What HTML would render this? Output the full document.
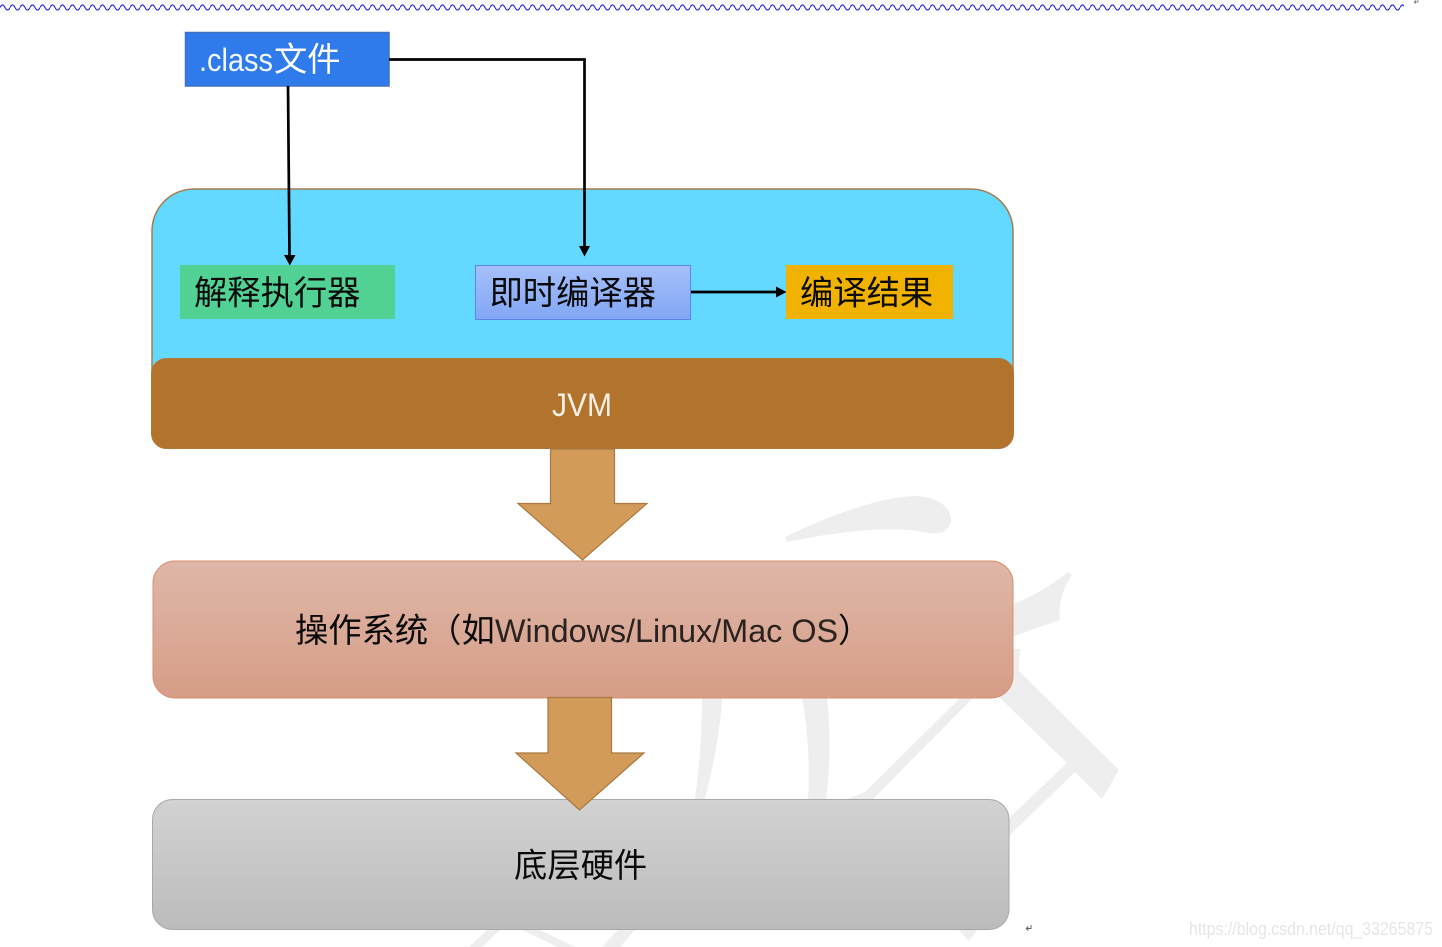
<!DOCTYPE html>
<html><head><meta charset="utf-8"><style>
html,body{margin:0;padding:0;background:#fff;width:1442px;height:947px;overflow:hidden}
svg{display:block}
text{font-family:"Liberation Sans","Noto Sans CJK SC",sans-serif}
.c{font-family:"Noto Sans CJK SC","WenQuanYi Zen Hei",sans-serif;font-weight:400;font-size:33.300px}
.l{font-family:"Liberation Sans",sans-serif;font-size:32px}
</style></head><body>
<svg width="1442" height="947" viewBox="0 0 1442 947" xmlns="http://www.w3.org/2000/svg">
<defs>
<linearGradient id="gj" x1="0" y1="0" x2="0" y2="1"><stop offset="0" stop-color="#a5bff9"/><stop offset="1" stop-color="#82a7f5"/></linearGradient>
<linearGradient id="gs" x1="0" y1="0" x2="0" y2="1"><stop offset="0" stop-color="#dfb7a8"/><stop offset="1" stop-color="#d69d87"/></linearGradient>
<linearGradient id="gg" x1="0" y1="0" x2="0" y2="1"><stop offset="0" stop-color="#d2d2d2"/><stop offset="1" stop-color="#bcbcbc"/></linearGradient>
<pattern id="w" x="0" y="0" width="10" height="15" patternUnits="userSpaceOnUse"><path d="M0 7.500 Q2.500 2.500 5 7.500 T10 7.500" fill="none" stroke="#2a2ae0" stroke-width="1.200"/></pattern>
</defs>
<rect width="1442" height="947" fill="#fff"/>
<!-- watermark -->
<g fill="#eeeeee">
<path d="M785 537 C830 515 880 497 915 496 C938 497 951 507 951 520 C950 531 940 535 928 533 C900 526 850 529 787 542Z"/>
<path d="M1068 572 L1072 575 C1062 590 1058 605 1060 620 L1011 637 L1011 605 C1035 595 1052 585 1068 572Z"/>
<path d="M702 698H722C720 735 712 770 705 799H695C699 770 702 735 702 698Z"/>
<path d="M802 698H827C831 735 830 770 826 799H808C810 765 808 730 802 698Z"/>
<path d="M960 698H973L873 799H847L865 792Z"/>
<path d="M1020 649L1019 671L1119 770L1102 799L1075 772L1007 838V820L1067 763L1000 698L1011 673L1014 649Z"/>
<path d="M958 929H978L969 941Z"/>
<path d="M469 947L487 930H500L482 947Z"/>
<path d="M522 930H540L575 947H558Z"/>
<path d="M618 930H635L620 947H602Z"/>
</g>
<!-- squiggle -->
<rect x="0" y="0" width="1404" height="15" fill="url(#w)"/>
<path d="M1414 2h4M1414 2l2 -1.500M1414 2l2 1.500M1418 0v2" stroke="#888" stroke-width="1" fill="none"/>
<!-- jvm -->
<rect x="152" y="189" width="861" height="240" rx="42" ry="42" fill="#64d9ff" stroke="#a67c52" stroke-width="1.500"/>
<rect x="151.500" y="358.500" width="862" height="90" rx="15" ry="15" fill="#b2732d" stroke="#b2763a" stroke-width="1"/>
<!-- boxes -->
<rect x="185.500" y="32.500" width="203.500" height="53.500" fill="#2f7bec" stroke="#3f70c2" stroke-width="1.500"/>
<rect x="180" y="265" width="215" height="54" fill="#52d194"/>
<rect x="475.500" y="265.500" width="215" height="54" fill="url(#gj)" stroke="#5b86ea" stroke-width="1"/>
<rect x="786" y="265" width="167" height="54" fill="#f2b200"/>
<!-- connectors -->
<g stroke="#000" stroke-width="2.700" fill="none">
<path d="M288 86L289.500 256"/>
<path d="M389 59.500H584.500V246"/>
<path d="M691 292H776"/>
</g>
<path d="M284 255H295.500L289.800 265.500Z" fill="#000"/>
<path d="M579 246H590L584.500 256.500Z" fill="#000"/>
<path d="M776 286.500V297.500L786.500 292Z" fill="#000"/>
<!-- block arrows -->
<path d="M550.500 449H614.500V503.500H647L582.500 560L518 503.500H550.500Z" fill="#d39b5a" stroke="#a9783f" stroke-width="1.200"/>
<!-- salmon -->
<rect x="153" y="561" width="860" height="137" rx="22" ry="22" fill="url(#gs)" stroke="#d98f6e" stroke-width="1"/>
<!-- gray -->
<rect x="152.500" y="799.500" width="856.500" height="130" rx="20" ry="20" fill="url(#gg)" stroke="#a8a8a8" stroke-width="1"/>
<path d="M548 697.500H611.500V753H644L579.500 810L516 753H548Z" fill="#d39b5a" stroke="#a9783f" stroke-width="1.200"/>
<!-- labels -->
<text class="l" x="199" y="71" fill="#f2f7ff" textLength="74" lengthAdjust="spacingAndGlyphs">.class</text>
<text class="c" x="274" y="71" fill="#fff">文件</text>
<text class="c" x="194" y="304.500" fill="#0a0a0a">解释执行器</text>
<text class="c" x="489.500" y="304.500" fill="#0a0a0a">即时编译器</text>
<text class="c" x="800" y="304.500" fill="#0a0a0a">编译结果</text>
<text class="l" x="552" y="416" fill="#f6efe6" textLength="60" lengthAdjust="spacingAndGlyphs">JVM</text>
<text class="c" x="295" y="642" fill="#0a0a0a">操作系统（如</text>
<text class="l" x="495" y="642" fill="#2a2220" textLength="343" lengthAdjust="spacingAndGlyphs">Windows/Linux/Mac OS</text>
<text class="c" x="838" y="642" fill="#0a0a0a">）</text>
<text class="c" x="514" y="877" fill="#0a0a0a">底层硬件</text>
<path d="M1031 925v3.500h-5M1026 928.500l2.500 -2M1026 928.500l2.500 2" stroke="#666" stroke-width="1" fill="none"/>
<text x="1189" y="935" font-size="18" fill="#e6e6e6" textLength="244" lengthAdjust="spacingAndGlyphs">https://blog.csdn.net/qq_33265875</text>
</svg>
</body></html>
